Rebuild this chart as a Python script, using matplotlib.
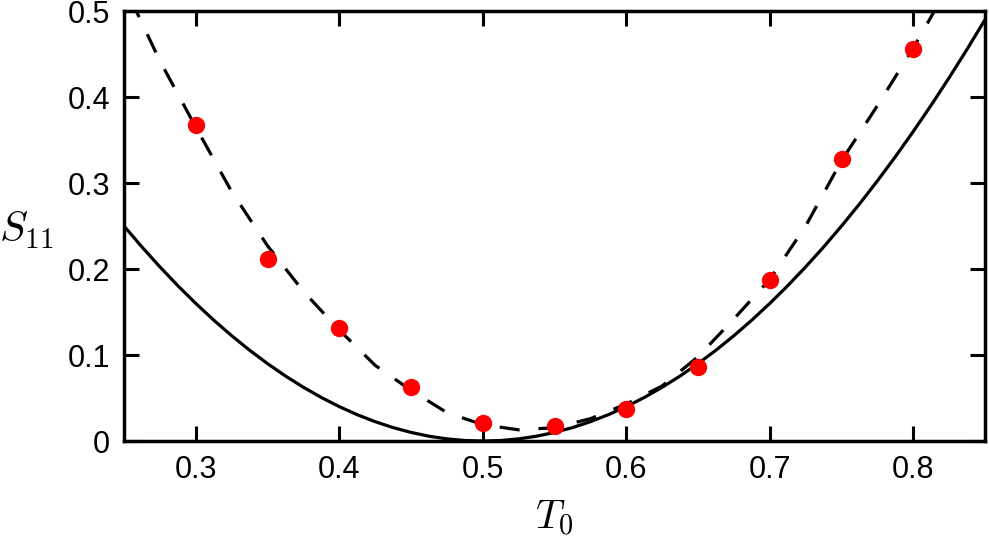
import numpy as np
import matplotlib
matplotlib.use("Agg")
import matplotlib.pyplot as plt

plt.rcParams['font.family'] = ['Liberation Sans', 'DejaVu Sans']
plt.rcParams['mathtext.fontset'] = 'cm'

# measured points (red dots)
T0_pts = [0.30, 0.35, 0.40, 0.45, 0.50, 0.55, 0.60, 0.65, 0.70, 0.75, 0.80]
S11_pts = [0.367, 0.212, 0.131, 0.063, 0.021, 0.018, 0.037, 0.086, 0.187, 0.328, 0.456]

T0_solid = [0.2500, 0.2625, 0.2750, 0.2875, 0.3000, 0.3125, 0.3250, 0.3375,
            0.3500, 0.3625, 0.3750, 0.3875, 0.4000, 0.4125, 0.4250, 0.4375,
            0.4500, 0.4625, 0.4750, 0.4875, 0.5000, 0.5125, 0.5250, 0.5375,
            0.5500, 0.5625, 0.5750, 0.5875, 0.6000, 0.6125, 0.6250, 0.6375,
            0.6500, 0.6625, 0.6750, 0.6875, 0.7000, 0.7125, 0.7250, 0.7375,
            0.7500, 0.7625, 0.7750, 0.7875, 0.8000, 0.8125, 0.8250, 0.8375,
            0.8500]
S11_solid = [0.2500, 0.2256, 0.2025, 0.1806, 0.1600, 0.1406, 0.1225, 0.1056,
             0.0900, 0.0756, 0.0625, 0.0506, 0.0400, 0.0306, 0.0225, 0.0156,
             0.0100, 0.0056, 0.0025, 0.0006, 0.0000, 0.0006, 0.0025, 0.0056,
             0.0100, 0.0156, 0.0225, 0.0306, 0.0400, 0.0506, 0.0625, 0.0756,
             0.0900, 0.1056, 0.1225, 0.1406, 0.1600, 0.1806, 0.2025, 0.2256,
             0.2500, 0.2756, 0.3025, 0.3306, 0.3600, 0.3906, 0.4225, 0.4556,
             0.4900]

T0_dashed = [0.250, 0.275, 0.300, 0.325, 0.350, 0.375, 0.400, 0.425, 0.450,
             0.475, 0.500, 0.525, 0.550, 0.575, 0.600, 0.625, 0.650, 0.675,
             0.700, 0.725, 0.750, 0.775, 0.800, 0.825, 0.850]
S11_dashed = [0.530, 0.442, 0.365, 0.290, 0.227, 0.174, 0.129, 0.088, 0.059,
              0.033, 0.019, 0.013, 0.0155, 0.026, 0.043, 0.064, 0.098, 0.142,
              0.188, 0.250, 0.326, 0.390, 0.457, 0.530, 0.610]

fig = plt.figure(figsize=(9.89, 5.40), dpi=100)
ax = fig.add_axes([0.1254, 0.1833, 0.8706, 0.7963])

ax.plot(T0_solid, S11_solid, color='black', lw=2.3)
ax.plot(T0_dashed, S11_dashed, color='black', lw=2.3, dashes=(6.3, 5.9))
ax.plot(T0_pts, S11_pts, 'o', color='red', ms=12.5, mec='none', zorder=5)

ax.set_xlim(0.25, 0.85)
ax.set_ylim(0, 0.5)
ax.set_xticks([0.3, 0.4, 0.5, 0.6, 0.7, 0.8])
ax.set_yticks([0, 0.1, 0.2, 0.3, 0.4, 0.5])
ax.set_xticklabels(['0.3', '0.4', '0.5', '0.6', '0.7', '0.8'])
ax.set_yticklabels(['0', '0.1', '0.2', '0.3', '0.4', '0.5'])

for s in ax.spines.values():
    s.set_linewidth(2.5)
ax.tick_params(direction='in', length=11, width=2.2, labelsize=22,
               top=True, right=True, pad=10)

ax.set_xlabel(r'$T_0$', fontsize=29, va='center')
ax.xaxis.set_label_coords(0.5, -0.18)
ax.set_ylabel(r'$S_{11}$', fontsize=30, rotation=0, va='center', ha='center')
ax.yaxis.set_label_coords(-0.113, 0.49)

fig.savefig('out.png', dpi=100)
